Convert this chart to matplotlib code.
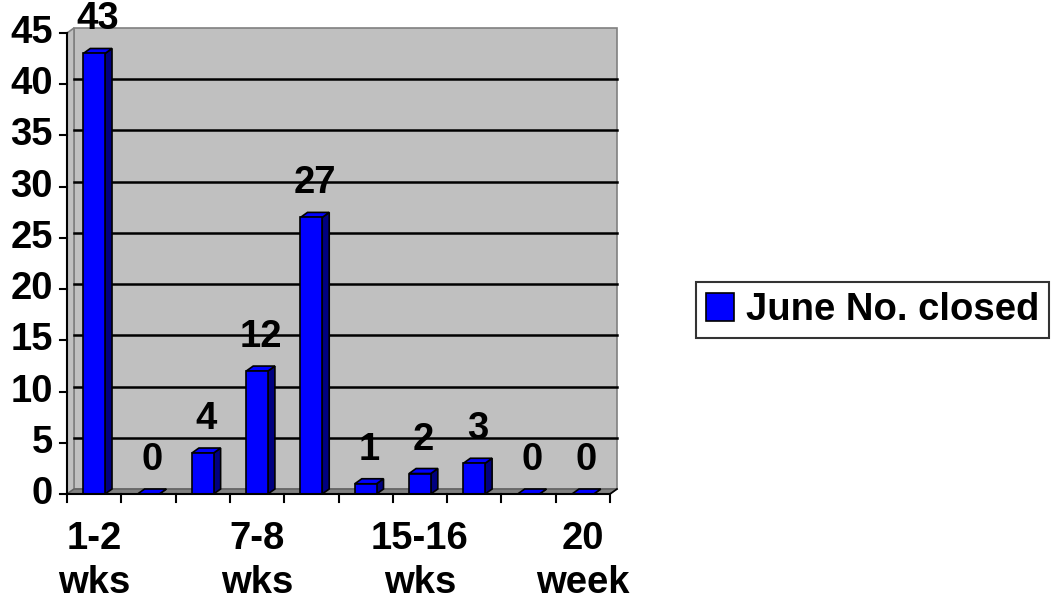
import matplotlib
matplotlib.use("Agg")
import matplotlib.pyplot as plt
from matplotlib.patches import Polygon, Rectangle
from matplotlib.lines import Line2D

categories = ["1-2\nwks", "3-4\nwks", "5-6\nwks", "7-8\nwks", "9-10\nwks",
              "11-12\nwks", "15-16\nwks", "17-18\nwks", "19\nwks", "20\nweek"]
values = [43, 0, 4, 12, 27, 1, 2, 3, 0, 0]
shown_label_idx = [0, 3, 6, 9]
yticks = [0, 5, 10, 15, 20, 25, 30, 35, 40, 45]
series_name = "June No. closed"

plt.rcParams['font.family'] = ['Liberation Sans', 'DejaVu Sans']
plt.rcParams['font.weight'] = 'bold'
FS = 27.5

W, H = 1052, 605
fig = plt.figure(figsize=(W / 100, H / 100), dpi=100)
L, R, B, T = 67, 610, 494, 33
ax = fig.add_axes([L / W, (H - B) / H, (R - L) / W, (B - T) / H])
n = len(values)
ymax = 45
ax.set_xlim(0, n)
ax.set_ylim(0, ymax)
ax.axis('off')

# depth offset in data units
px_x = n / (R - L)
px_y = ymax / (B - T)
dx, dy = 7 * px_x, 5 * px_y

wall = '#C0C0C0'
edge = '#808080'
# back wall
ax.add_patch(Polygon([(dx, dy), (n + dx, dy), (n + dx, ymax + dy), (dx, ymax + dy)],
                     closed=True, fc=wall, ec=edge, lw=1.2, clip_on=False, zorder=0))
# left wall
ax.add_patch(Polygon([(0, 0), (dx, dy), (dx, ymax + dy), (0, ymax)],
                     closed=True, fc=wall, ec=edge, lw=1.2, clip_on=False, zorder=0))
# floor
ax.add_patch(Polygon([(0, 0), (n, 0), (n + dx, dy), (dx, dy)],
                     closed=True, fc='#808080', ec='#606060', lw=1, clip_on=False, zorder=0.5))
# gridlines on back wall
for yv in yticks[1:-1]:
    ax.add_line(Line2D([dx, n + dx], [yv + dy, yv + dy], color='black', lw=1.8,
                       clip_on=False, zorder=0.6))

# bars
bw = 0.4
for i, v in enumerate(values):
    x0 = i + 0.5 - bw / 2
    x1 = x0 + bw
    ax.add_patch(Polygon([(x1, 0), (x1 + dx, dy), (x1 + dx, v + dy), (x1, v)],
                         closed=True, fc='#000080', ec='black', lw=1.2, clip_on=False, zorder=2))
    ax.add_patch(Polygon([(x0, v), (x0 + dx, v + dy), (x1 + dx, v + dy), (x1, v)],
                         closed=True, fc='#0000FF', ec='black', lw=1.2, clip_on=False, zorder=2))
bars = ax.bar([i + 0.5 for i in range(n)], values, width=bw, color='#0000FF',
              edgecolor='black', linewidth=1.2, zorder=3, clip_on=False)

# value labels
for i, v in enumerate(values):
    ax.annotate(str(v), (i + 0.5 + dx / 2, v), xytext=(0, 16), textcoords='offset pixels',
                ha='center', va='bottom', fontsize=FS, fontweight='bold', zorder=5,
                annotation_clip=False)

# axes lines
ax.add_line(Line2D([0, 0], [0, ymax], color='black', lw=1.5, clip_on=False, zorder=4))
ax.add_line(Line2D([0, n], [0, 0], color='black', lw=1.5, clip_on=False, zorder=4))
ax.add_line(Line2D([n, n + dx], [0, dy], color='black', lw=1.2, clip_on=False, zorder=4))
tick_len_x = 7 * px_x
tick_len_y = 8 * px_y
for yv in yticks:
    ax.add_line(Line2D([-tick_len_x, 0], [yv, yv], color='black', lw=1.5, clip_on=False, zorder=4))
    ax.text(-14 * px_x, yv, str(yv), ha='right', va='center', fontsize=FS,
            fontweight='bold')
for i in range(n + 1):
    ax.add_line(Line2D([i, i], [0, -tick_len_y], color='black', lw=1.5, clip_on=False, zorder=4))
for i in shown_label_idx:
    ax.text(i + 0.5, -27 * px_y, categories[i], ha='center', va='top', fontsize=FS,
            fontweight='bold', linespacing=1.3)

# legend
leg = fig.legend([Rectangle((0, 0), 1, 1, fc='#0000FF', ec='black', lw=1.2)], [series_name],
                 loc='center left', bbox_to_anchor=(696 / W, 1 - 310 / H),
                 frameon=True, fancybox=False, edgecolor='black', fontsize=FS,
                 handlelength=0.75, handleheight=0.75, handletextpad=0.3,
                 borderpad=0.25, borderaxespad=0)
leg.get_frame().set_linewidth(1.5)
for t in leg.get_texts():
    t.set_fontweight('bold')

fig.savefig('out.png', dpi=100)
